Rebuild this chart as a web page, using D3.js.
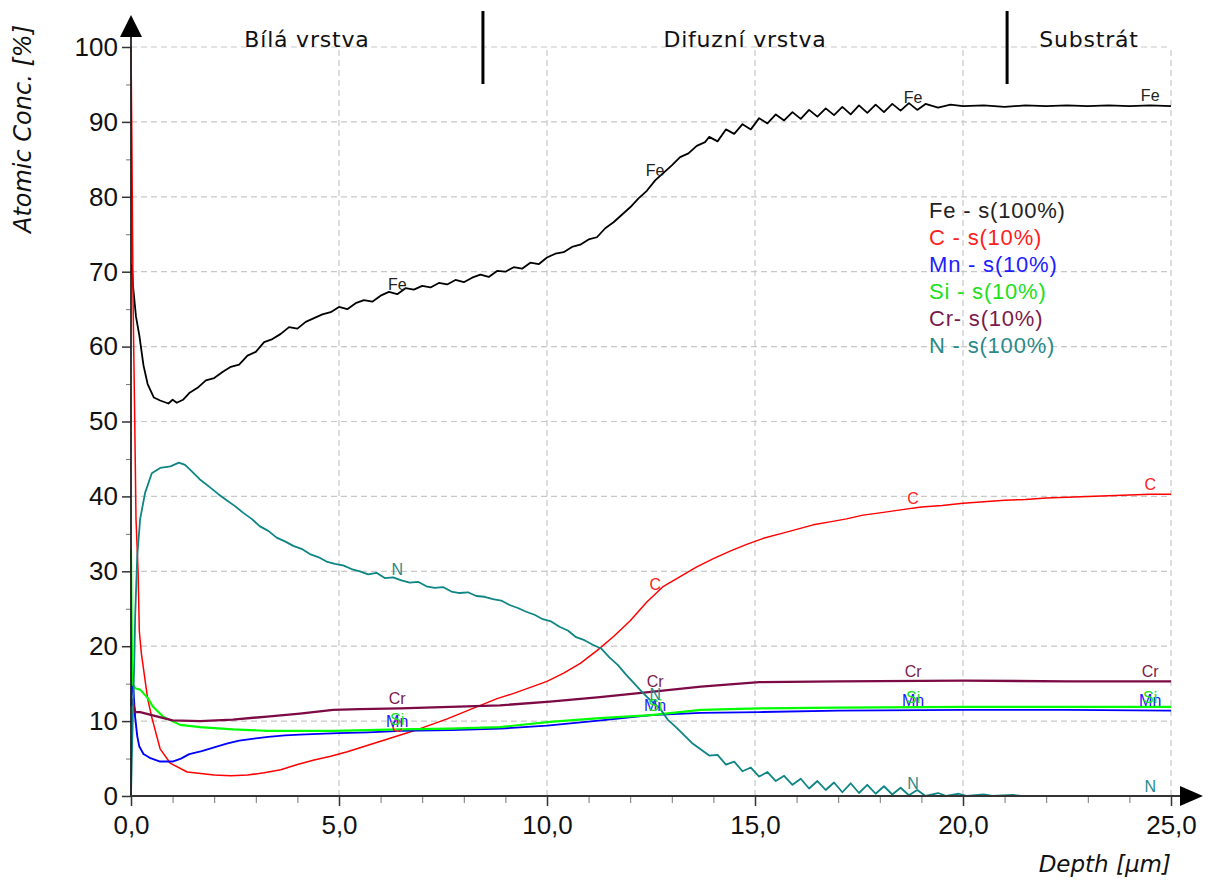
<!DOCTYPE html>
<html>
<head>
<meta charset="utf-8">
<script src="https://cdn.jsdelivr.net/npm/d3@7"></script>
<style>
  body { margin: 0; background: #fff; }
  svg { display: block; }
</style>
</head>
<body>
<svg id="chart" width="1211" height="883"></svg>
<script>
// depth axis [um] and concentration axis [%]
var depthTicks = [0, 5, 10, 15, 20, 25];
var depthMinor = [1, 2, 3, 4, 6, 7, 8, 9, 11, 12, 13, 14, 16, 17, 18, 19, 21, 22, 23, 24];
var concTicks = [0, 10, 20, 30, 40, 50, 60, 70, 80, 90, 100];
var concMinor = [5, 15, 25, 35, 45, 55, 65, 75, 85, 95];

var elements = ['Fe', 'C', 'Mn', 'Si', 'Cr', 'N'];
var legendLabels = ['Fe - s(100%)', 'C - s(10%)', 'Mn - s(10%)', 'Si - s(10%)', 'Cr- s(10%)', 'N - s(100%)'];

// layer boundaries [um] and names
var layerBounds = [8.46, 21.06];
var layerNames = ['Bílá vrstva', 'Difuzní vrstva', 'Substrát'];

// depths where the element names are written on the curves
var labelDepths = [6.4, 12.6, 18.8, 24.5];

// profiles, [depth um, conc %]
var fe = [[0.02,71],[0.05,68],[0.12,64],[0.2,61.5],[0.3,57.5],[0.4,55],[0.55,53.2],[0.7,52.8],[0.9,52.4],[1.0,52.9],[1.1,52.5],[1.25,52.9],
  [1.4,53.8],[1.6,54.5],[1.8,55.5],[2.0,55.8],[2.2,56.6],[2.4,57.3],[2.6,57.6],[2.8,58.8],[3.0,59.3],[3.2,60.6],[3.4,61.0],
  [3.6,61.7],[3.8,62.6],[4.0,62.4],[4.2,63.3],[4.4,63.8],[4.6,64.3],[4.8,64.6],[5.0,65.3],[5.2,65.0],[5.4,65.8],[5.6,66.2],
  [5.8,66.0],[6.0,66.8],[6.2,67.3],[6.4,67.0],[6.6,67.8],[6.8,67.6],[7.0,68.1],[7.2,67.9],[7.4,68.5],[7.6,68.3],[7.8,68.9],
  [8.0,68.6],[8.2,69.2],[8.4,69.6],[8.6,69.3],[8.8,70.1],[9.0,70.0],[9.2,70.6],[9.4,70.4],[9.6,71.2],[9.8,71.0],[10.0,71.9],
  [10.2,72.4],[10.4,72.6],[10.6,73.3],[10.8,73.6],[11.0,74.3],[11.2,74.6],[11.4,75.8],[11.6,76.6],[11.8,77.6],[12.0,78.6],
  [12.2,79.8],[12.4,80.8],[12.6,82.2],[12.8,83.2],[13.0,84.2],[13.2,85.3],[13.4,85.8],[13.6,86.8],[13.8,87.3],[13.9,88.0],
  [14.1,87.4],[14.3,89.0],[14.5,88.4],[14.7,89.7],[14.9,89.0],[15.1,90.5],[15.3,89.8],[15.5,91.0],[15.7,90.2],[15.9,91.3],
  [16.1,90.4],[16.3,91.6],[16.5,90.7],[16.7,91.8],[16.9,90.9],[17.1,92.0],[17.3,91.0],[17.5,92.2],[17.7,91.2],[17.9,92.3],
  [18.1,91.3],[18.3,92.4],[18.5,91.5],[18.7,92.5],[18.9,91.6],[19.1,92.4],[19.4,91.9],[19.7,92.3],[20.0,92.1],[20.5,92.2],
  [21.0,92.0],[21.5,92.2],[22.0,92.1],[22.5,92.2],[23.0,92.1],[23.5,92.2],[24.0,92.1],[24.5,92.2],[25.0,92.1]];

var c = [[0,100],[0.02,88],[0.05,66],[0.09,50],[0.12,37],[0.17,30],[0.2,22],[0.25,19],[0.3,17],[0.35,15],[0.4,13],[0.5,10.5],
  [0.7,6.3],[0.94,4.4],[1.35,3.2],[2.0,2.8],[2.4,2.7],[2.8,2.8],[3.2,3.1],[3.6,3.5],[4.0,4.2],[4.4,4.8],[4.8,5.3],[5.2,5.9],
  [5.6,6.6],[6.0,7.3],[6.4,8.0],[6.8,8.7],[7.2,9.5],[7.6,10.3],[8.0,11.2],[8.4,12.1],[8.8,13.0],[9.2,13.7],[9.6,14.5],
  [10.0,15.3],[10.4,16.4],[10.8,17.7],[11.2,19.4],[11.6,21.3],[12.0,23.4],[12.4,25.9],[12.8,28.0],[13.2,29.3],[13.6,30.6],
  [14.0,31.7],[14.4,32.7],[14.8,33.6],[15.2,34.4],[15.6,35.0],[16.0,35.6],[16.4,36.2],[16.8,36.6],[17.2,37.0],[17.6,37.5],
  [18.0,37.8],[18.5,38.2],[19.0,38.6],[19.5,38.8],[20.0,39.1],[20.5,39.3],[21.0,39.5],[21.5,39.6],[22.0,39.8],[22.5,39.9],
  [23.0,40.0],[23.5,40.1],[24.0,40.2],[24.5,40.3],[25.0,40.3]];

var mn = [[0,12],[0.03,16],[0.06,14],[0.1,10.5],[0.15,8],[0.2,6.6],[0.3,5.6],[0.45,5.1],[0.7,4.6],[1.0,4.6],[1.2,5.0],[1.4,5.6],
  [1.7,6.0],[2.0,6.5],[2.3,7.0],[2.6,7.4],[3.0,7.7],[3.3,7.9],[3.7,8.1],[4.06,8.2],[4.5,8.3],[5.0,8.4],[5.7,8.5],[6.5,8.7],
  [7.7,8.8],[8.9,9.0],[10.0,9.4],[11.3,10.1],[12.5,10.8],[13.7,11.1],[15.1,11.2],[17.0,11.4],[20.0,11.5],[22.5,11.5],[25.0,11.4]];

var si = [[0,33],[0.03,15],[0.1,14.4],[0.22,14.2],[0.4,13.1],[0.53,11.9],[0.77,10.6],[1.18,9.5],[1.66,9.2],[2.45,8.9],[3.27,8.7],
  [4.86,8.7],[6.47,8.9],[7.67,9.0],[8.87,9.2],[10.07,9.9],[11.27,10.4],[12.5,10.8],[13.7,11.5],[15.1,11.7],[17.0,11.8],
  [20.0,11.9],[22.5,11.9],[25.0,11.9]];

var cr = [[0,13],[0.03,12.8],[0.1,11.2],[0.22,11.2],[0.5,10.8],[1.0,10.1],[1.66,10.0],[2.45,10.2],[3.27,10.6],[4.06,11.0],
  [4.86,11.5],[5.5,11.6],[6.47,11.7],[7.67,11.9],[8.87,12.1],[10.07,12.6],[11.27,13.2],[12.5,13.9],[13.7,14.6],[15.1,15.2],
  [17.0,15.3],[20.0,15.4],[22.5,15.3],[25.0,15.3]];

var n = [[0,0],[0.02,5],[0.05,12],[0.08,18],[0.1,24],[0.15,32],[0.22,37],[0.34,40.5],[0.5,43.1],[0.7,43.8],[0.95,44.0],
  [1.15,44.5],[1.3,44.2],[1.45,43.4],[1.65,42.3],[1.9,41.2],[2.1,40.3],[2.3,39.5],[2.5,38.7],[2.7,37.8],[2.9,37.0],[3.1,36.0],
  [3.3,35.4],[3.5,34.5],[3.7,34.0],[3.9,33.4],[4.1,33.0],[4.3,32.3],[4.5,31.9],[4.7,31.3],[4.9,31.0],[5.1,30.8],[5.3,30.3],
  [5.5,30.0],[5.7,29.6],[5.9,29.8],[6.1,29.1],[6.3,29.2],[6.5,28.8],[6.7,28.5],[6.9,28.6],[7.1,28.0],[7.3,27.8],[7.5,27.9],
  [7.7,27.3],[7.9,27.1],[8.1,27.2],[8.3,26.7],[8.5,26.6],[8.7,26.3],[8.9,26.1],[9.1,25.5],[9.3,25.1],[9.5,24.6],[9.7,24.2],
  [9.9,23.6],[10.1,23.3],[10.3,22.6],[10.5,22.1],[10.7,21.2],[10.9,20.8],[11.1,20.2],[11.3,19.7],[11.5,18.5],[11.7,17.5],
  [11.9,16.2],[12.1,15.0],[12.3,13.8],[12.5,12.7],[12.7,11.8],[12.9,10.2],[13.1,9.2],[13.3,8.1],[13.5,7.0],[13.7,6.2],
  [13.9,5.4],[14.1,5.5],[14.3,4.2],[14.5,4.6],[14.7,3.3],[14.9,3.8],[15.1,2.6],[15.3,3.2],[15.5,2.0],[15.7,2.7],[15.9,1.5],
  [16.1,2.3],[16.3,1.0],[16.5,2.0],[16.7,0.8],[16.9,1.8],[17.1,0.5],[17.3,1.7],[17.5,0.4],[17.7,1.5],[17.9,0.3],[18.1,1.3],
  [18.3,0.2],[18.5,1.1],[18.7,0.1],[18.9,0.8],[19.1,0.0],[19.4,0.4],[19.6,0],[19.9,0.3],[20.1,0],[20.5,0.2],[20.7,0],
  [21.2,0.15],[21.4,0],[22.0,0],[25.0,0]];

var profiles = [fe, c, mn, si, cr, n];
var colors = ['#000000', '#ff0000', '#0000ff', '#00ff00', '#7c0a45', '#0e8585'];
var widths = [1.8, 1.5, 1.9, 2.1, 2.4, 1.8];
var textColors = ['#222222', '#ff2020', '#2020ff', '#20e020', '#7c1a4c', '#2a8a8a'];

var svg = d3.select('#chart');

var x = d3.scaleLinear().domain([0, 25]).range([131, 1171]);
var y = d3.scaleLinear().domain([0, 100]).range([796, 47]);

//grid
var grid = svg.append('g').attr('stroke', '#c8c8c8').attr('stroke-width', 1.2).attr('stroke-dasharray', '6,4');
grid.selectAll('.hg').data(concTicks.slice(1)).enter().append('line')
  .attr('x1', x(0)).attr('x2', x(25))
  .attr('y1', function(d) { return y(d); }).attr('y2', function(d) { return y(d); });
grid.selectAll('.vg').data(depthTicks.slice(1)).enter().append('line')
  .attr('y1', y(0)).attr('y2', y(100))
  .attr('x1', function(d) { return x(d); }).attr('x2', function(d) { return x(d); });

// minor ticks
svg.append('g').attr('transform', 'translate(' + x(0) + ',0)')
  .call(d3.axisLeft(y).tickValues(concMinor).tickSize(5).tickFormat(''))
  .call(function(g) { g.select('.domain').remove(); g.selectAll('line').attr('stroke', '#777'); });
svg.append('g').attr('transform', 'translate(0,' + y(0) + ')')
  .call(d3.axisBottom(x).tickValues(depthMinor).tickSize(7).tickFormat(''))
  .call(function(g) { g.select('.domain').remove(); g.selectAll('line').attr('stroke', '#777'); });

// major axes
var yAxis = svg.append('g').attr('transform', 'translate(' + x(0) + ',0)')
  .call(d3.axisLeft(y).tickValues(concTicks).tickSize(9).tickPadding(4));
var xAxis = svg.append('g').attr('transform', 'translate(0,' + y(0) + ')')
  .call(d3.axisBottom(x).tickValues(depthTicks).tickSize(10).tickPadding(10)
    .tickFormat(function(d) { return d3.format('.1f')(d).replace('.', ','); }));
[yAxis, xAxis].forEach(function(g) {
  g.select('.domain').remove();
  g.selectAll('line').attr('stroke', '#333').attr('stroke-width', 1.5);
  g.selectAll('text').attr('font-family', 'Liberation Sans, Arial, sans-serif').attr('font-size', 26).attr('fill', '#111');
});

// section dividers and names
svg.selectAll('.bound').data(layerBounds).enter().append('line')
  .attr('x1', function(d) { return x(d); }).attr('x2', function(d) { return x(d); })
  .attr('y1', 11).attr('y2', 84)
  .attr('stroke', '#000').attr('stroke-width', 3);
var edges = [0].concat(layerBounds, [25]);
svg.selectAll('.layer').data(layerNames).enter().append('text')
  .attr('x', function(d, i) { return x((edges[i] + edges[i + 1]) / 2); })
  .attr('y', 47)
  .attr('text-anchor', 'middle')
  .attr('font-family', 'DejaVu Sans, sans-serif')
  .attr('font-size', 22)
  .attr('letter-spacing', 0.8)
  .attr('fill', '#111')
  .text(function(d) { return d; });

// profiles
var line = d3.line().x(function(d) { return x(d[0]); }).y(function(d) { return y(d[1]); });
svg.selectAll('.profile').data(profiles).enter().append('path')
  .attr('d', line)
  .attr('fill', 'none')
  .attr('stroke', function(d, i) { return colors[i]; })
  .attr('stroke-width', function(d, i) { return widths[i]; })
  .attr('stroke-linejoin', 'round');

// names on the curves
var bis = d3.bisector(function(d) { return d[0]; }).left;
function valueAt(data, depth) {
  var i = bis(data, depth);
  if (i <= 0) return data[0][1];
  if (i >= data.length) return data[data.length - 1][1];
  var a = data[i - 1], b = data[i];
  return a[1] + (b[1] - a[1]) * (depth - a[0]) / (b[0] - a[0]);
}
profiles.forEach(function(data, i) {
  svg.selectAll('.lbl' + i).data(labelDepths).enter().append('text')
    .attr('x', function(d) { return x(d); })
    .attr('y', function(d) { return y(valueAt(data, d)) - 4; })
    .attr('text-anchor', 'middle')
    .attr('font-family', 'Liberation Sans, Arial, sans-serif')
    .attr('font-size', 16)
    .attr('fill', textColors[i])
    .text(elements[i]);
});

// axis lines with arrows
svg.append('line').attr('x1', x(0)).attr('x2', x(0)).attr('y1', y(0)).attr('y2', 30)
  .attr('stroke', '#222').attr('stroke-width', 1.8);
svg.append('line').attr('x1', x(0)).attr('x2', 1185).attr('y1', y(0)).attr('y2', y(0))
  .attr('stroke', '#333').attr('stroke-width', 2);
svg.append('path').attr('d', 'M' + x(0) + ',15 L' + (x(0) - 11) + ',37 L' + (x(0) + 11) + ',37 Z').attr('fill', '#000');
svg.append('path').attr('d', 'M1203,' + y(0) + ' L1180,' + (y(0) - 10) + ' L1180,' + (y(0) + 10) + ' Z').attr('fill', '#000');

// axis titles
svg.append('text')
  .attr('transform', 'translate(31,129) rotate(-90)')
  .attr('text-anchor', 'middle')
  .attr('font-family', 'DejaVu Sans, sans-serif')
  .attr('font-style', 'italic')
  .attr('font-size', 24)
  .attr('fill', '#111')
  .text('Atomic Conc. [%]');
svg.append('text')
  .attr('x', 1171).attr('y', 872)
  .attr('text-anchor', 'end')
  .attr('font-family', 'DejaVu Sans, sans-serif')
  .attr('font-style', 'italic')
  .attr('font-size', 23)
  .attr('fill', '#111')
  .text('Depth [µm]');

// legend
svg.selectAll('.legend').data(legendLabels).enter().append('text')
  .attr('x', 929)
  .attr('y', function(d, i) { return 218 + i * 27; })
  .attr('font-family', 'Liberation Sans, Arial, sans-serif')
  .attr('font-size', 22)
  .attr('letter-spacing', 0.8)
  .attr('fill', function(d, i) { return textColors[i]; })
  .text(function(d) { return d; });
</script>
</body>
</html>
